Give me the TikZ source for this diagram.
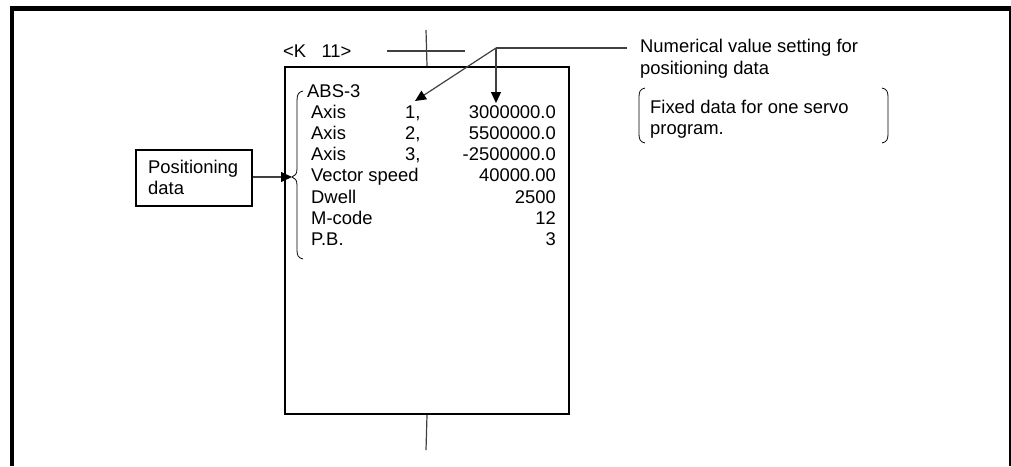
\documentclass[tikz,border=0pt]{standalone}
\usepackage{fontspec}
\setmainfont{Liberation Sans}
\usetikzlibrary{arrows.meta}
\begin{document}
\begin{tikzpicture}[x=1pt,y=-1pt,
  txt/.style={inner sep=0pt,anchor=base west,font=\fontsize{18.4}{21.3}\selectfont},
  rtxt/.style={inner sep=0pt,anchor=base east,font=\fontsize{18.4}{21.3}\selectfont},
  thinline/.style={line width=1.2pt,draw=black!75},
  arr/.style={thinline,-{Triangle[length=11pt,width=10pt,color=black,fill=black]}},
  boxline/.style={draw,line width=2pt}]
\useasboundingbox (0,0) rectangle (1011,466);
% outer frame
\draw[line width=5pt] (10,8.5) -- (1011,8.5);
\draw[line width=4pt] (12,6) -- (12,466);
\draw[line width=2pt] (1010,8) -- (1010,466);
% main box
\node[boxline,minimum width=284pt,minimum height=347pt,inner sep=0pt,anchor=north west] (main) at (284,66) {};
\coordinate (ttop) at (426,30);
\coordinate (tbot) at (426,450);
\draw[thinline] (main.north) -- (ttop);
\draw[thinline] (main.south) -- (tbot);
\coordinate (hl) at (387,51);
\coordinate (hr) at (465,51);
\draw[thinline] (hl) -- (hr);
\node[txt] (k) at (283,57) {<K\ \ \ 11>};
% contents
\node[txt] (abs) at (307,97) {ABS-3};
\node[txt] (a1) at (311,118) {Axis};
\node[txt] (n1) at (405,118) {1,};
\node[rtxt] (v1) at (556,118) {3000000.0};
\node[txt] (a2) at (311,139) {Axis};
\node[txt] (n2) at (405,139) {2,};
\node[rtxt] (v2) at (556,139) {5500000.0};
\node[txt] (a3) at (311,160) {Axis};
\node[txt] (n3) at (405,160) {3,};
\node[rtxt] (v3) at (556,160) {-2500000.0};
\node[txt] (vs) at (311,181) {Vector speed};
\node[rtxt] (v4) at (556,181) {40000.00};
\node[txt] (dw) at (311,203) {Dwell};
\node[rtxt] (v5) at (556,203) {2500};
\node[txt] (mc) at (311,224) {M-code};
\node[rtxt] (v6) at (556,224) {12};
\node[txt] (pb) at (311,245) {P.B.};
\node[rtxt] (v7) at (556,245) {3};
% brace
\coordinate (btip) at (292,177);
\draw[line width=0.8pt] (303,91) .. controls (298,92) and (297,95) .. (297,101)
  -- (297,169) .. controls (297,174) and (295,176) .. (btip)
  .. controls (295,178) and (297,180) .. (297,185)
  -- (297,250) .. controls (297,255) and (298,258) .. (303,259);
% positioning data box
\node[draw,line width=1.8pt,minimum width=116pt,minimum height=56pt,inner sep=0pt,anchor=north west] (pd) at (135,149) {};
\node[txt] (pd1) at (148,173) {Positioning};
\node[txt] (pd2) at (148,194) {data};
\draw[arr] (pd.east |- btip) -- (btip);
% callout
\coordinate (j) at (496,48);
\node[txt] (c1) at (640,52) {Numerical value setting for};
\node[txt] (c2) at (640,74) {positioning data};
\draw[thinline] (j) -- (627,48);
\coordinate (t1) at (415,101);
\coordinate (t2) at (496,103);
\draw[arr] (j) -- (t1);
\draw[arr] (j) -- (t2);
% fixed data note
\node[txt] (f1) at (650,113) {Fixed data for one servo};
\node[txt] (f2) at (650,134) {program.};
\draw[line width=0.8pt] (645,88) .. controls (640,89) and (639,92) .. (639,97) -- (639,134) .. controls (639,139) and (640,142) .. (645,143);
\draw[line width=0.8pt] (882,88) .. controls (887,89) and (888,92) .. (888,97) -- (888,134) .. controls (888,139) and (887,142) .. (882,143);
\end{tikzpicture}
\end{document}
